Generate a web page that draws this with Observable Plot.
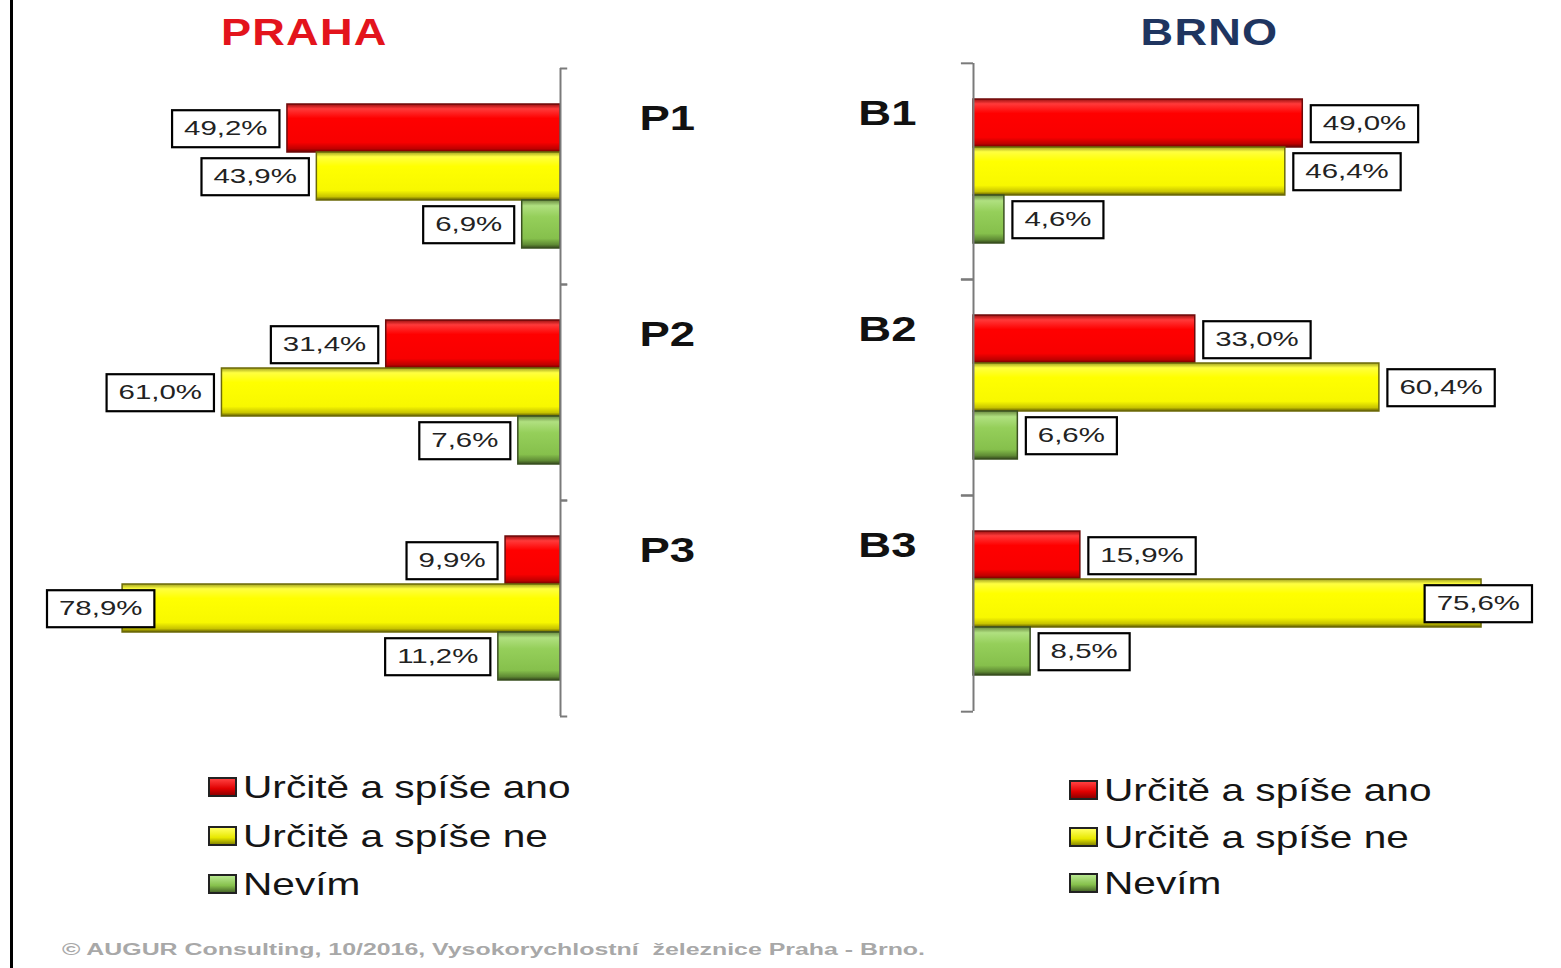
<!DOCTYPE html>
<html><head><meta charset="utf-8">
<script src="https://cdn.jsdelivr.net/npm/d3@7"></script>
<script src="https://cdn.jsdelivr.net/npm/@observablehq/plot@0.6"></script>
<style>
body{margin:0;background:#fff;}
#root{position:relative;width:1561px;height:968px;overflow:hidden;font-family:"Liberation Sans",Arial,sans-serif;background:#fff;}
.title{position:absolute;font-weight:bold;font-size:37px;line-height:37px;white-space:nowrap;transform-origin:center center;}
.legend{position:absolute;}
.lrow{position:absolute;left:0;height:40px;white-space:nowrap;}
.sw{position:absolute;left:0;top:10px;width:25px;height:16px;border:2px solid #222;}
.ltxt{position:absolute;top:0;font-size:32px;line-height:40px;color:#151515;transform-origin:left center;}
.footer{position:absolute;font-size:16px;line-height:18px;font-weight:bold;color:#a8a8a8;white-space:pre;transform-origin:left center;}
</style></head><body>
<svg width="0" height="0" style="position:absolute">
<defs>
<linearGradient id="gR" x1="0" y1="0" x2="0" y2="1">
<stop offset="0" stop-color="#9a1010"/><stop offset="0.1" stop-color="#ff3a3a"/><stop offset="0.3" stop-color="#ff0000"/><stop offset="0.8" stop-color="#f80000"/><stop offset="0.93" stop-color="#c00000"/><stop offset="1" stop-color="#6a0000"/>
</linearGradient>
<linearGradient id="gY" x1="0" y1="0" x2="0" y2="1">
<stop offset="0" stop-color="#a0a020"/><stop offset="0.1" stop-color="#ffff40"/><stop offset="0.3" stop-color="#ffff00"/><stop offset="0.8" stop-color="#f8f800"/><stop offset="0.93" stop-color="#c8c400"/><stop offset="1" stop-color="#5e5a00"/>
</linearGradient>
<linearGradient id="gG" x1="0" y1="0" x2="0" y2="1">
<stop offset="0" stop-color="#6a8a40"/><stop offset="0.12" stop-color="#b0e080"/><stop offset="0.35" stop-color="#95cf5a"/><stop offset="0.8" stop-color="#86c04c"/><stop offset="0.93" stop-color="#5f8a34"/><stop offset="1" stop-color="#34481c"/>
</linearGradient>
</defs>
</svg>
<div id="root"></div>
<script>
// ---------- data ----------
const categories = ["Určitě a spíše ano", "Určitě a spíše ne", "Nevím"];
const prahaGroups = ["P1", "P2", "P3"];
const brnoGroups = ["B1", "B2", "B3"];
const prahaAno = [49.2, 31.4, 9.9];
const prahaNe = [43.9, 61.0, 78.9];
const prahaNevim = [6.9, 7.6, 11.2];
const brnoAno = [49.0, 33.0, 15.9];
const brnoNe = [46.4, 60.4, 75.6];
const brnoNevim = [4.6, 6.6, 8.5];
const cityTitles = ["PRAHA", "BRNO"];
const footerText = "© AUGUR Consulting, 10/2016, Vysokorychlostní  železnice Praha - Brno.";

// ---------- styles ----------
const fills = ["url(#gR)", "url(#gY)", "url(#gG)"];
const strokes = ["#6e0a0a", "#6c6a08", "#3a5020"];
const swatchBg = [
  "linear-gradient(#ff4040,#e00000 60%,#900000)",
  "linear-gradient(#ffff60,#e8e800 60%,#8a8a00)",
  "linear-gradient(#b8e890,#86c04c 60%,#4a6a2a)"
];
const FONT = "Liberation Sans, Arial, sans-serif";
const fmt = v => v.toFixed(1).replace(".", ",") + "%";

function table(groups, ano, ne, nevim) {
  return groups.flatMap((g, i) => [
    {group: g, cat: categories[0], value: ano[i]},
    {group: g, cat: categories[1], value: ne[i]},
    {group: g, cat: categories[2], value: nevim[i]}
  ]);
}
const prahaData = table(prahaGroups, prahaAno, prahaNe, prahaNevim);
const brnoData = table(brnoGroups, brnoAno, brnoNe, brnoNevim);

const root = document.getElementById("root");

function panel({data, groups, left, width, height, marginLeft, marginRight, marginTop, marginBottom, xmax, tickLen}) {
  const po = 0.75;
  const facetH = (height - marginTop - marginBottom) / groups.length;
  const step = facetH / (categories.length + 2 * po);
  const half = (0.5 + po) * step;
  const marks = [
    ...categories.map((c, i) => Plot.barX(data, {
      filter: d => d.cat === c, x: "value", y: "cat", fill: "cat",
      stroke: strokes[i], strokeWidth: 1.5
    })),
    Plot.ruleX([0], {stroke: "#7a7a7a", strokeWidth: 2}),
    Plot.ruleY(data, {filter: d => d.cat === categories[0], y: "cat", x1: 0, x2: tickLen, dy: -half, stroke: "#7a7a7a", strokeWidth: 2}),
    Plot.ruleY(data, {filter: d => d.cat === categories[categories.length - 1], y: "cat", x1: 0, x2: tickLen, dy: half, stroke: "#7a7a7a", strokeWidth: 2}),
    Plot.text(data, {
      x: "value", y: "cat", text: d => fmt(d.value),
      textAnchor: left ? "end" : "start", dx: left ? -20 : 20,
      fontSize: 21, fill: "#222", fontFamily: FONT
    }),
    Plot.text(data, {
      filter: d => d.cat === categories[0], y: "cat", text: "group",
      frameAnchor: left ? "right" : "left", textAnchor: left ? "start" : "end",
      dx: left ? 79 : -57, dy: -10, fontSize: 35, fontWeight: "bold", fill: "#111",
      fontFamily: FONT
    })
  ];
  return Plot.plot({
    width, height, marginLeft, marginRight, marginTop, marginBottom,
    style: {fontFamily: FONT, background: "transparent", overflow: "visible"},
    x: {domain: [0, xmax], reverse: left, axis: null},
    y: {domain: categories, paddingInner: 0, paddingOuter: po, axis: null},
    fy: {domain: groups, padding: 0, axis: null},
    color: {type: "ordinal", domain: categories, range: fills},
    facet: {data, y: "group"},
    marks
  });
}

function stretchText(t, k) {
  const w = t.getComputedTextLength();
  t.setAttribute("textLength", w * k);
  t.setAttribute("lengthAdjust", "spacingAndGlyphs");
}

function finish(svg, groups, {minX = -Infinity, maxX = Infinity}) {
  const sr = svg.getBoundingClientRect();
  const texts = Array.from(svg.querySelectorAll("text"));
  texts.filter(t => groups.includes(t.textContent.trim())).forEach(t => stretchText(t, 1.3));
  const padX = 12, padY = 7;
  texts.filter(t => /%$/.test(t.textContent.trim())).forEach(t => {
    stretchText(t, 1.4);
    const r = t.getBoundingClientRect();
    let shift = 0;
    if (r.left - sr.left - padX < minX) shift = minX - (r.left - sr.left - padX);
    if (r.right - sr.left + padX > maxX) shift = maxX - (r.right - sr.left + padX);
    if (shift) {
      if (t.hasAttribute("x")) t.setAttribute("x", +t.getAttribute("x") + shift);
      else t.setAttribute("transform", (t.getAttribute("transform") || "") + ` translate(${shift},0)`);
    }
    const b = t.getBBox();
    const rect = document.createElementNS("http://www.w3.org/2000/svg", "rect");
    if (t.getAttribute("transform")) rect.setAttribute("transform", t.getAttribute("transform"));
    rect.setAttribute("x", b.x - padX);
    rect.setAttribute("y", b.y - padY + 1);
    rect.setAttribute("width", b.width + 2 * padX);
    rect.setAttribute("height", b.height + 2 * padY);
    rect.setAttribute("fill", "#fff");
    rect.setAttribute("stroke", "#000");
    rect.setAttribute("stroke-width", "2.2");
    t.parentNode.insertBefore(rect, t);
  });
}

// left: PRAHA
const leftSvg = panel({data: prahaData, groups: prahaGroups, left: true, width: 780, height: 740,
  marginLeft: 5, marginRight: 220, marginTop: 68, marginBottom: 24, xmax: 100, tickLen: -1.3});
leftSvg.style.position = "absolute"; leftSvg.style.left = "0px"; leftSvg.style.top = "0px";
root.appendChild(leftSvg);
finish(leftSvg, prahaGroups, {minX: 47});

// right: BRNO
const rightSvg = panel({data: brnoData, groups: brnoGroups, left: false, width: 781, height: 740,
  marginLeft: 193, marginRight: 50.4, marginTop: 62, marginBottom: 28, xmax: 80, tickLen: -1.8});
rightSvg.style.position = "absolute"; rightSvg.style.left = "780px"; rightSvg.style.top = "0px";
root.appendChild(rightSvg);
finish(rightSvg, brnoGroups, {maxX: 752});

// titles
const titleColors = ["#e3141c", "#1f3560"];
const titleCenters = [302, 1207];
cityTitles.forEach((s, i) => {
  const d = document.createElement("div");
  d.className = "title";
  d.textContent = s;
  d.style.color = titleColors[i];
  d.style.top = "14px";
  root.appendChild(d);
  const w = d.getBoundingClientRect().width;
  d.style.left = (titleCenters[i] - w / 2) + "px";
  d.style.transform = "scaleX(1.22)";
  d.style.letterSpacing = "1px";
});

// legends
function legend(x, y, gap) {
  const lg = document.createElement("div");
  lg.className = "legend";
  lg.style.left = x + "px"; lg.style.top = y + "px";
  categories.forEach((c, i) => {
    const row = document.createElement("div");
    row.className = "lrow";
    row.style.top = (i * gap) + "px";
    const sw = document.createElement("div");
    sw.className = "sw";
    sw.style.background = swatchBg[i];
    const tx = document.createElement("div");
    tx.className = "ltxt";
    tx.style.left = "35px";
    tx.style.transform = "scaleX(1.27)";
    tx.textContent = c;
    row.appendChild(sw); row.appendChild(tx);
    lg.appendChild(row);
  });
  root.appendChild(lg);
}
legend(208, 767, 48.5);
legend(1069, 770, 46.5);

// footer
const ft = document.createElement("div");
ft.className = "footer";
ft.textContent = footerText;
ft.style.left = "62px"; ft.style.top = "941px";
root.appendChild(ft);
const fw = ft.getBoundingClientRect().width;
ft.style.transform = `scaleX(${863 / fw})`;

// left border line
const bl = document.createElement("div");
bl.style.cssText = "position:absolute;left:10px;top:0;width:3px;height:968px;background:#000;";
root.appendChild(bl);
</script>
</body></html>
